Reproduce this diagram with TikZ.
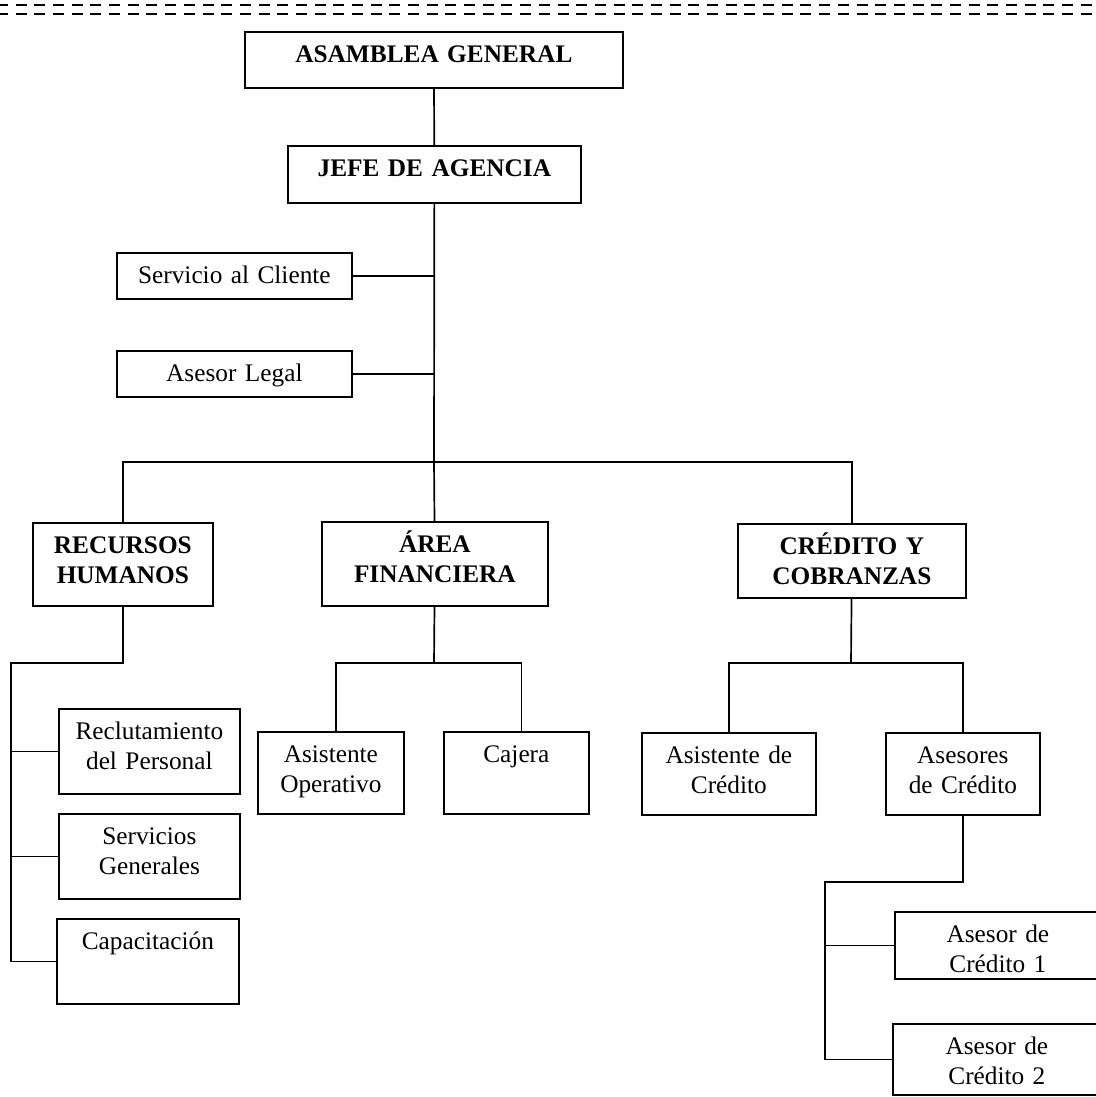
\documentclass[tikz,border=0pt]{standalone}
\usepackage{fontspec}
\setmainfont{Liberation Serif}

\begin{document}
\begin{tikzpicture} [ x=0.025cm, y=-0.025cm
                    , every node/.style={font=\fontsize{18}{21}\selectfont}
                    , cargo/.style 2 args={rectangle, draw, line width=1.2pt, inner sep=0pt, anchor=north west, align=center, text width=#1, text height=.775cm, text depth=#2}
                    , jefatura/.style={font=\fontsize{18}{21}\selectfont\bfseries}
                    , linea/.style={draw, line width=1.2pt}
                    , corte/.style={draw, line width=2pt, dash pattern=on .275cm off .192cm}
                    ]
	\useasboundingbox (0,0) rectangle (1096,1097);
	\clip (0,0) rectangle (1096,1097);

	\foreach \y in {5,14}
		\draw [corte] (-3,\y) -- (1100,\y);

	\node (Asamblea)         [cargo={9.45cm}{.625cm}, jefatura] at (244,31) {ASAMBLEA GENERAL};
	\node (Jefe)             [cargo={7.325cm}{.65cm}, jefatura] at (287,145) {JEFE DE AGENCIA};
	\node (Servicio)         [cargo={5.875cm}{.375cm}] at (116,252) {Servicio al Cliente};
	\node (Legal)            [cargo={5.875cm}{.375cm}] at (116,350) {Asesor Legal};

	\node (Recursos)         [cargo={4.5cm}{1.3cm}, jefatura] at (32,522) {RECURSOS\\HUMANOS};
	\node (Area)             [cargo={5.65cm}{1.325cm}, jefatura] at (321,521) {ÁREA\\FINANCIERA};
	\node (Credito)          [cargo={5.7cm}{1.075cm}, jefatura] at (737,523) {CRÉDITO Y\\COBRANZAS};

	\node (Reclutamiento)    [cargo={4.525cm}{1.35cm}] at (58,708) {Reclutamiento\\del Personal};
	\node (Generales)        [cargo={4.525cm}{1.35cm}] at (58,813) {Servicios\\Generales};
	\node (Capacitacion)     [cargo={4.55cm}{1.35cm}] at (56,918) {Capacitación};

	\node (Asistente)        [cargo={3.65cm}{1.275cm}] at (257,731) {Asistente\\Operativo};
	\node (Cajera)           [cargo={3.625cm}{1.275cm}] at (443,731) {Cajera};

	\node (AsistenteCredito) [cargo={4.35cm}{1.275cm}] at (641,732) {Asistente de\\Crédito};
	\node (Asesores)         [cargo={3.85cm}{1.275cm}] at (885,732) {Asesores\\de Crédito};
	\node (Asesor1)          [cargo={5.15cm}{.9cm}] at (894,911) {Asesor de\\Crédito 1};
	\node (Asesor2)          [cargo={5.2cm}{1cm}] at (892,1023) {Asesor de\\Crédito 2};

	\coordinate (Bus) at (434,462);
	\coordinate (RH)  at (11,663);
	\coordinate (AF)  at (434,663);
	\coordinate (CC)  at (851,663);
	\coordinate (AC)  at (825,882);

	\draw [linea] (Asamblea) -- (Jefe);
	\draw [linea] (Jefe) -- (Bus);
	\draw [linea] (Servicio.east) -- (Servicio.east -| Bus);
	\draw [linea] (Legal.east) -- (Legal.east -| Bus);
	\draw [linea] (Recursos) |- (Bus) -| (Credito);
	\draw [linea] (Bus) -- (Area);

	\draw [linea] (Recursos) |- (RH) |- (Capacitacion.west);
	\draw [linea] (Reclutamiento.west) -- (Reclutamiento.west -| RH);
	\draw [linea] (Generales.west) -- (Generales.west -| RH);

	\draw [linea] (Area) -- (AF);
	\draw [linea] ([xshift=.125cm]Asistente.north) |- (AF) -| ([xshift=.125cm]Cajera.north);

	\draw [linea] (Credito) -- (CC);
	\draw [linea] (AsistenteCredito) |- (CC) -| (Asesores);
	\draw [linea] (Asesores) |- (AC) |- (Asesor2.west);
	\draw [linea] (Asesor1.west) -- (Asesor1.west -| AC);

\end{tikzpicture}
\end{document}
